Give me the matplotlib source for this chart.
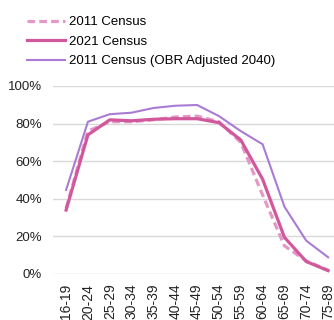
import matplotlib
matplotlib.use("Agg")
import matplotlib.pyplot as plt
from matplotlib.ticker import PercentFormatter

plt.rcParams["font.family"] = ["Liberation Sans", "DejaVu Sans"]

# ── Data: employment rate by age band ─────────────────────
age_bands = ["16-19", "20-24", "25-29", "30-34", "35-39", "40-44", "45-49",
             "50-54", "55-59", "60-64", "65-69", "70-74", "75-89"]
census_2011 = [0.35, 0.76, 0.81, 0.81, 0.82, 0.835, 0.84, 0.81, 0.70, 0.42, 0.15, 0.07, 0.02]
census_2021 = [0.34, 0.74, 0.82, 0.815, 0.823, 0.826, 0.826, 0.805, 0.713, 0.504, 0.195, 0.066, 0.018]
obr_2040 = [0.447, 0.81, 0.85, 0.858, 0.883, 0.895, 0.899, 0.84, 0.76, 0.69, 0.358, 0.177, 0.089]

c_2011 = "#E398C6"
c_2021 = "#D2589C"
c_obr = "#A97CD4"

W, H = 334, 320
fig = plt.figure(figsize=(W / 100, H / 100), dpi=100)
ax = fig.add_axes([53 / W, 46 / H, 281 / W, 188 / H])

x = range(len(age_bands))
ax.plot(x, census_2011, color=c_2011, lw=2.3, ls=(0, (2.4, 1.3)), label="2011 Census")
ax.plot(x, census_2021, color=c_2021, lw=2.3, label="2021 Census")
ax.plot(x, obr_2040, color=c_obr, lw=1.5, label="2011 Census (OBR Adjusted 2040)")

ax.set_xlim(-0.6, 12.27)
ax.set_ylim(0, 1)
ax.set_yticks([0, 0.2, 0.4, 0.6, 0.8, 1.0])
ax.yaxis.set_major_formatter(PercentFormatter(1.0, decimals=0))
ax.set_xticks(list(x))
ax.set_xticklabels(age_bands, rotation=90)
ax.tick_params(axis="both", length=0, labelsize=9.5, colors="#222222")
ax.tick_params(axis="x", pad=7, labelsize=10)
ax.tick_params(axis="y", pad=8)
for lbl in ax.get_yticklabels():
    lbl.set_horizontalalignment("right")

ax.grid(axis="y", color="#D9D9D9", lw=1)
ax.set_axisbelow(True)
for s in ax.spines.values():
    s.set_visible(False)

fig.legend(loc="upper left", bbox_to_anchor=(27 / W, 1 - 16 / H), frameon=False,
           fontsize=9.5, handlelength=2.9, handletextpad=0.25, labelspacing=0.55,
           borderpad=0, borderaxespad=0)

fig.savefig("out.png", dpi=100)
